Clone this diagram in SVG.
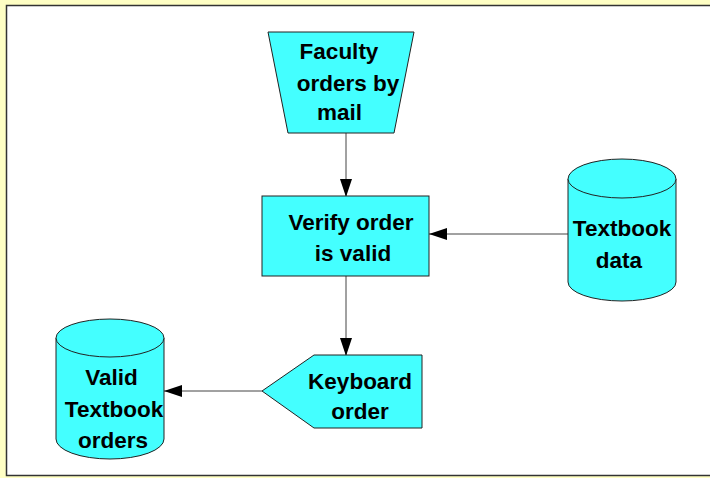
<svg xmlns="http://www.w3.org/2000/svg" width="710" height="478" viewBox="0 0 710 478">
<defs>
<style>
.shape{fill:#44FFFF;stroke:#222;stroke-width:1}
.lbl{font-family:"Liberation Sans",Arial,sans-serif;font-weight:bold;font-size:22.5px;fill:#000;text-anchor:middle}
.conn{stroke:#444;stroke-width:1;fill:none}
</style>
<marker id="ah" markerWidth="18" markerHeight="12" refX="18" refY="6" orient="auto" markerUnits="userSpaceOnUse">
<path d="M0,0 L18,6 L0,12 Z" fill="#000"/>
</marker>
</defs>
<rect x="0" y="0" width="710" height="478" fill="#FFFFC4"/>
<rect x="6.5" y="5.5" width="710" height="470" fill="#FFFFFF" stroke="#333" stroke-width="1.5"/>
<g id="connectors">
<line class="conn" x1="346" y1="133" x2="346" y2="197" marker-end="url(#ah)"/>
<line class="conn" x1="568" y1="234" x2="429" y2="234" marker-end="url(#ah)"/>
<line class="conn" x1="346" y1="276" x2="346" y2="356" marker-end="url(#ah)"/>
<line class="conn" x1="262" y1="391" x2="164" y2="391" marker-end="url(#ah)"/>
</g>
<g id="faculty-orders">
<polygon class="shape" points="268,32 414,32 394,133 288,133"/>
<text class="lbl" x="339" y="59">Faculty</text>
<text class="lbl" x="348" y="91">orders by</text>
<text class="lbl" x="339.5" y="120">mail</text>
</g>
<g id="verify-order">
<rect class="shape" x="262" y="196" width="167" height="80"/>
<text class="lbl" x="351" y="230">Verify order</text>
<text class="lbl" x="353" y="261">is valid</text>
</g>
<g id="textbook-data">
<path class="shape" d="M568,179 A54,20 0 0 1 676,179 L676,282 A54,19 0 0 1 568,282 Z"/>
<path class="shape" d="M568,179 A54,19 0 0 0 676,179" fill="none"/>
<text class="lbl" x="622" y="236">Textbook</text>
<text class="lbl" x="619" y="268">data</text>
</g>
<g id="keyboard-order">
<polygon class="shape" points="262,391 314,355 422,355 422,428 314,428"/>
<text class="lbl" x="360" y="389">Keyboard</text>
<text class="lbl" x="360" y="419">order</text>
</g>
<g id="valid-textbook-orders">
<path class="shape" d="M56,338 A54,19 0 0 1 164,338 L164,439 A54,20 0 0 1 56,439 Z"/>
<path class="shape" d="M56,338 A54,19 0 0 0 164,338" fill="none"/>
<text class="lbl" x="111.5" y="385">Valid</text>
<text class="lbl" x="114" y="417">Textbook</text>
<text class="lbl" x="113" y="448">orders</text>
</g>
</svg>
